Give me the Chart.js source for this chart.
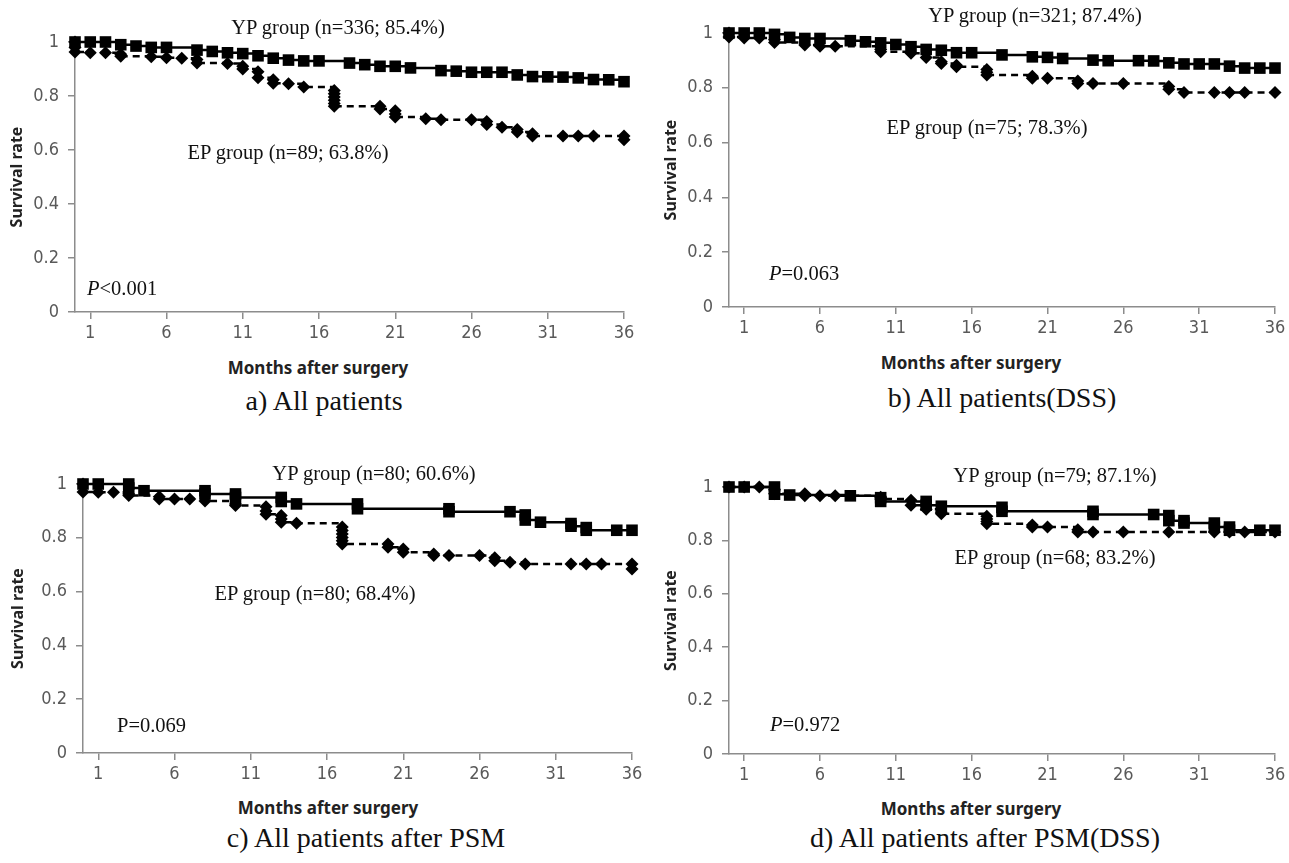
<!DOCTYPE html>
<html>
<head>
<meta charset="utf-8">
<script src="https://cdn.jsdelivr.net/npm/chart.js@4.4.0/dist/chart.umd.min.js"></script>
<style>
  body { margin: 0; background: #fff; width: 1289px; height: 863px; position: relative; overflow: hidden; }
  canvas { position: absolute; }
  .note { position: absolute; font-family: "Liberation Serif", "Times New Roman", serif; font-size: 20.5px; color: #111; white-space: nowrap; transform: translate(-50%, -50%); }
  .pval { position: absolute; font-family: "Liberation Serif", "Times New Roman", serif; font-size: 20.5px; color: #111; white-space: nowrap; transform: translate(0, -50%); }
  .xtitle { position: absolute; font-family: "Noto Sans", sans-serif; font-weight: bold; font-size: 17px; color: #222; white-space: nowrap; transform: translate(-50%, -50%); }
  .caption { position: absolute; font-family: "Liberation Serif", "Times New Roman", serif; font-size: 28px; color: #111; white-space: nowrap; transform: translate(-50%, -50%); }
</style>
</head>
<body>
<canvas id="chartA" width="640" height="345" style="left:0;top:0"></canvas>
<canvas id="chartB" width="649" height="340" style="left:640px;top:0"></canvas>
<canvas id="chartC" width="660" height="346" style="left:0;top:440px"></canvas>
<canvas id="chartD" width="649" height="347" style="left:640px;top:440px"></canvas>

<div class="note" style="left:338px;top:27px">YP group (n=336; 85.4%)</div>
<div class="note" style="left:288px;top:152px">EP group (n=89; 63.8%)</div>
<div class="pval" style="left:87px;top:288px"><i>P</i>&lt;0.001</div>
<div class="xtitle" style="left:318px;top:367px">Months after surgery</div>
<div class="caption" style="left:324px;top:401px">a) All patients</div>

<div class="note" style="left:1035px;top:15px">YP group (n=321; 87.4%)</div>
<div class="note" style="left:987px;top:127px">EP group (n=75; 78.3%)</div>
<div class="pval" style="left:769px;top:273px"><i>P</i>=0.063</div>
<div class="xtitle" style="left:971px;top:362px">Months after surgery</div>
<div class="caption" style="left:1002px;top:398px">b) All patients(DSS)</div>

<div class="note" style="left:374px;top:473px">YP group (n=80; 60.6%)</div>
<div class="note" style="left:315px;top:593px">EP group (n=80; 68.4%)</div>
<div class="pval" style="left:117px;top:725px">P=0.069</div>
<div class="xtitle" style="left:328px;top:807px">Months after surgery</div>
<div class="caption" style="left:366px;top:838px">c) All patients after PSM</div>

<div class="note" style="left:1055px;top:475px">YP group (n=79; 87.1%)</div>
<div class="note" style="left:1055px;top:557px">EP group (n=68; 83.2%)</div>
<div class="pval" style="left:770px;top:724px"><i>P</i>=0.972</div>
<div class="xtitle" style="left:971px;top:808px">Months after surgery</div>
<div class="caption" style="left:985px;top:838px">d) All patients after PSM(DSS)</div>

<script>
const xTicks = [1, 6, 11, 16, 21, 26, 31, 36];

// a) All patients
const ypMonthsA = [0, 1, 2, 3, 4, 5, 6, 8, 9, 10, 11, 12, 13, 14, 15, 16, 18, 19, 20, 21, 22, 24, 25, 26, 27, 28, 29, 30, 31, 32, 33, 34, 35, 36];
const ypRateA = [1, 1, 1, 0.99, 0.985, 0.98, 0.98, 0.97, 0.965, 0.96, 0.957, 0.949, 0.94, 0.933, 0.93, 0.93, 0.922, 0.916, 0.91, 0.91, 0.904, 0.894, 0.892, 0.888, 0.888, 0.888, 0.878, 0.872, 0.871, 0.87, 0.867, 0.861, 0.86, 0.853];
const epMonthsA = [0, 0, 0, 1, 2, 3, 3, 5, 6, 7, 8, 8, 10, 11, 11, 12, 12, 13, 13, 14, 15, 17, 17, 17, 17, 17, 17, 20, 20, 21, 21, 21, 23, 24, 26, 27, 27, 28, 29, 29, 30, 30, 32, 33, 34, 36, 36];
const epRateA = [1, 0.98, 0.963, 0.96, 0.96, 0.955, 0.947, 0.945, 0.942, 0.94, 0.935, 0.922, 0.92, 0.91, 0.9, 0.89, 0.868, 0.86, 0.847, 0.845, 0.833, 0.82, 0.808, 0.796, 0.784, 0.772, 0.762, 0.762, 0.752, 0.745, 0.733, 0.722, 0.716, 0.712, 0.712, 0.706, 0.694, 0.684, 0.676, 0.667, 0.66, 0.652, 0.652, 0.652, 0.652, 0.652, 0.638];

// b) All patients(DSS)
const ypMonthsB = [0, 1, 2, 3, 4, 5, 6, 8, 9, 10, 11, 12, 13, 14, 15, 16, 18, 20, 21, 22, 24, 25, 27, 28, 29, 30, 31, 32, 33, 34, 35, 36];
const ypRateB = [1, 1, 1, 0.995, 0.984, 0.98, 0.98, 0.972, 0.968, 0.964, 0.958, 0.95, 0.94, 0.937, 0.928, 0.928, 0.92, 0.913, 0.911, 0.907, 0.901, 0.899, 0.899, 0.898, 0.891, 0.887, 0.887, 0.887, 0.879, 0.872, 0.872, 0.872];
const epMonthsB = [0, 0, 1, 2, 3, 3, 5, 6, 7, 10, 10, 12, 13, 14, 14, 15, 15, 17, 17, 17, 20, 20, 21, 23, 23, 24, 26, 29, 29, 30, 32, 33, 34, 36];
const epRateB = [1, 0.985, 0.982, 0.982, 0.975, 0.965, 0.956, 0.952, 0.952, 0.94, 0.932, 0.926, 0.911, 0.895, 0.889, 0.882, 0.877, 0.867, 0.857, 0.847, 0.842, 0.835, 0.835, 0.825, 0.816, 0.816, 0.816, 0.805, 0.795, 0.783, 0.783, 0.783, 0.783, 0.783];

// c) All patients after PSM
const ypMonthsC = [0, 1, 3, 3, 4, 8, 8, 10, 10, 13, 13, 14, 18, 18, 24, 24, 28, 29, 29, 30, 32, 32, 33, 33, 35, 36];
const ypRateC = [1, 1, 1, 0.985, 0.975, 0.975, 0.963, 0.963, 0.95, 0.95, 0.935, 0.926, 0.926, 0.908, 0.908, 0.897, 0.897, 0.885, 0.866, 0.858, 0.853, 0.843, 0.838, 0.828, 0.828, 0.828];
const epMonthsC = [0, 0, 1, 2, 3, 3, 5, 5, 6, 7, 8, 10, 10, 12, 12, 12, 13, 13, 13, 14, 17, 17, 17, 17, 17, 17, 20, 20, 21, 21, 23, 23, 24, 26, 27, 27, 28, 29, 32, 33, 34, 36, 36];
const epRateC = [1, 0.97, 0.969, 0.969, 0.963, 0.957, 0.953, 0.944, 0.944, 0.944, 0.937, 0.926, 0.92, 0.915, 0.9, 0.888, 0.883, 0.87, 0.858, 0.854, 0.84, 0.827, 0.814, 0.801, 0.789, 0.777, 0.777, 0.765, 0.758, 0.746, 0.74, 0.734, 0.734, 0.734, 0.726, 0.715, 0.709, 0.703, 0.703, 0.703, 0.703, 0.703, 0.684];

// d) All patients after PSM(DSS)
const ypMonthsD = [0, 1, 3, 3, 4, 8, 10, 10, 13, 13, 14, 18, 18, 24, 24, 28, 29, 29, 30, 30, 32, 32, 33, 33, 35, 36];
const ypRateD = [1, 1, 1, 0.973, 0.97, 0.967, 0.96, 0.946, 0.946, 0.932, 0.928, 0.924, 0.909, 0.909, 0.897, 0.897, 0.893, 0.874, 0.874, 0.865, 0.865, 0.85, 0.85, 0.838, 0.838, 0.838];
const epMonthsD = [0, 1, 2, 3, 3, 5, 5, 6, 7, 10, 10, 12, 12, 13, 14, 14, 17, 17, 17, 17, 20, 20, 21, 23, 23, 24, 26, 29, 32, 33, 34, 36];
const epRateD = [1, 1, 1, 0.99, 0.975, 0.975, 0.967, 0.967, 0.967, 0.962, 0.955, 0.95, 0.932, 0.917, 0.905, 0.9, 0.89, 0.88, 0.871, 0.862, 0.858, 0.85, 0.85, 0.84, 0.831, 0.831, 0.831, 0.831, 0.831, 0.831, 0.831, 0.831];

const axisColor = "#8c8c8c";
const tickFont = { family: "'DejaVu Sans Condensed', 'Liberation Sans Narrow', sans-serif", size: 18 };

function toPoints(xs, ys) {
    return xs.map((x, i) => ({ x: x, y: ys[i] }));
}

// box: chart area placement inside the canvas
function makePanel(id, ypMonths, ypRate, epMonths, epRate, box) {
    const ctx = document.getElementById(id).getContext("2d");
    new Chart(ctx, {
        type: "line",
        data: {
            datasets: [{
                label: "YP group",
                data: toPoints(ypMonths, ypRate),
                stepped: true,
                borderColor: "#000",
                borderWidth: 2.5,
                pointStyle: "rect",
                pointRadius: 8.2,
                pointBackgroundColor: "#000",
                pointBorderWidth: 0,
                clip: false
            }, {
                label: "EP group",
                data: toPoints(epMonths, epRate),
                stepped: true,
                borderColor: "#000",
                borderWidth: 2.5,
                borderDash: [7, 5],
                pointStyle: "rectRot",
                pointRadius: 6.5,
                pointBackgroundColor: "#000",
                pointBorderWidth: 0,
                clip: false
            }]
        },
        options: {
            responsive: false,
            animation: false,
            events: [],
            layout: { padding: { top: box.top, right: box.right, left: 0, bottom: 0 } },
            plugins: { legend: { display: false }, tooltip: { enabled: false } },
            scales: {
                x: {
                    type: "linear",
                    min: 0,
                    max: 36,
                    afterBuildTicks: s => { s.ticks = xTicks.map(v => ({ value: v })); },
                    afterFit: s => { s.height = box.xh; s.paddingLeft = 0; s.paddingRight = 0; },
                    ticks: { color: "#595959", font: tickFont, padding: 4, maxRotation: 0, autoSkip: false },
                    grid: { drawOnChartArea: false, drawTicks: true, tickLength: 7, color: axisColor, lineWidth: 1.5 },
                    border: { display: true, color: axisColor, width: 1.5 }
                },
                y: {
                    min: 0,
                    max: 1,
                    afterFit: s => { s.width = box.yw; },
                    ticks: {
                        stepSize: 0.2,
                        color: "#595959",
                        font: tickFont,
                        padding: 9,
                        callback: v => String(Math.round(v * 10) / 10)
                    },
                    grid: { drawOnChartArea: false, drawTicks: true, tickLength: 7, color: axisColor, lineWidth: 1.5 },
                    border: { display: true, color: axisColor, width: 1.5 },
                    title: {
                        display: true,
                        text: "Survival rate",
                        color: "#222",
                        font: { family: "'Noto Sans', sans-serif", weight: "bold", size: 16 },
                        padding: { top: box.tpad, bottom: 0 }
                    }
                }
            }
        }
    });
}

makePanel("chartA", ypMonthsA, ypRateA, epMonthsA, epRateA, { top: 42, right: 16, yw: 75, xh: 33, tpad: 8 });
makePanel("chartB", ypMonthsB, ypRateB, epMonthsB, epRateB, { top: 33, right: 14, yw: 89, xh: 33, tpad: 22 });
makePanel("chartC", ypMonthsC, ypRateC, epMonthsC, epRateC, { top: 44, right: 28, yw: 83, xh: 33, tpad: 9 });
makePanel("chartD", ypMonthsD, ypRateD, epMonthsD, epRateD, { top: 47, right: 14, yw: 89, xh: 33, tpad: 22 });
</script>
</body>
</html>
